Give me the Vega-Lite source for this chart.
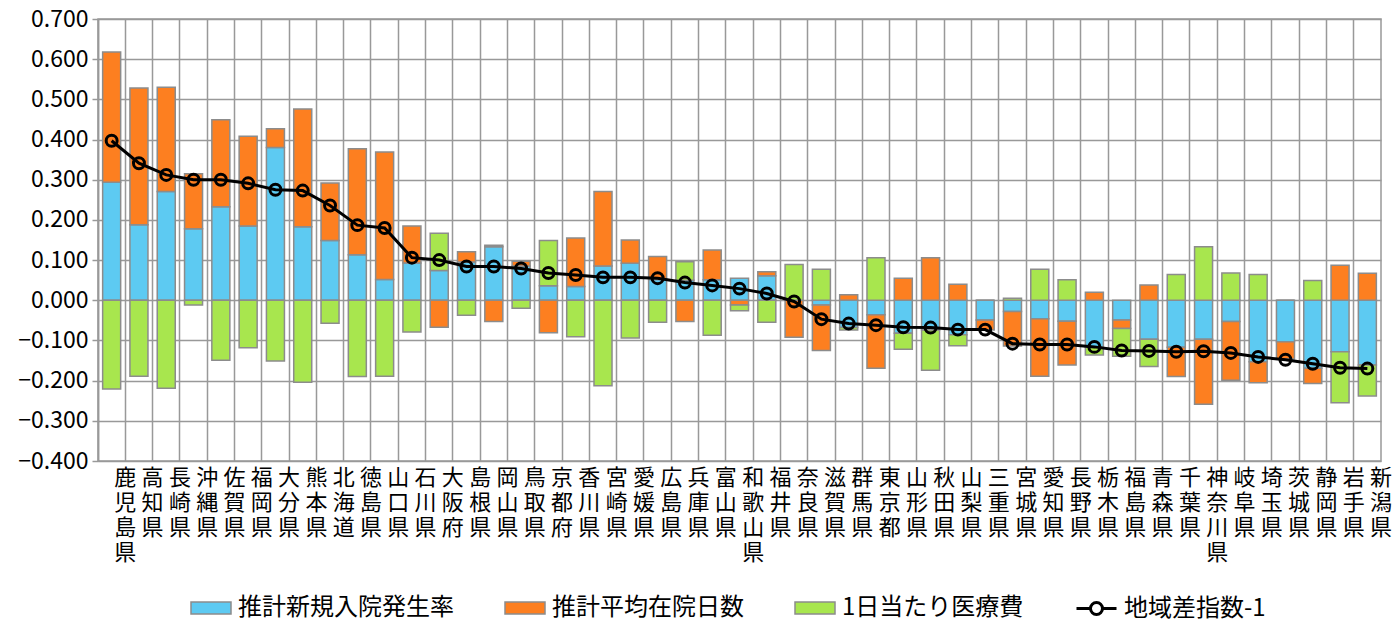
{
  "$schema": "https://vega.github.io/schema/vega-lite/v6.json",
  "width": 1283,
  "height": 442,
  "autosize": {"type": "none"},
  "padding": {"left": 98, "top": 19, "right": 16, "bottom": 160},
  "background": "white",
  "config": {
    "font": "Noto Sans CJK JP",
    "view": {"stroke": "#999999", "strokeWidth": 1.5}
  },
  "data": {
    "values": [
      {"pref": "鹿児島県", "推計新規入院発生率": 0.294, "推計平均在院日数": 0.324, "1日当たり医療費": -0.221, "地域差指数-1": 0.397},
      {"pref": "高知県", "推計新規入院発生率": 0.188, "推計平均在院日数": 0.340, "1日当たり医療費": -0.189, "地域差指数-1": 0.341},
      {"pref": "長崎県", "推計新規入院発生率": 0.271, "推計平均在院日数": 0.259, "1日当たり医療費": -0.219, "地域差指数-1": 0.312},
      {"pref": "沖縄県", "推計新規入院発生率": 0.178, "推計平均在院日数": 0.137, "1日当たり医療費": -0.012, "地域差指数-1": 0.300},
      {"pref": "佐賀県", "推計新規入院発生率": 0.233, "推計平均在院日数": 0.216, "1日当たり医療費": -0.149, "地域差指数-1": 0.300},
      {"pref": "福岡県", "推計新規入院発生率": 0.185, "推計平均在院日数": 0.223, "1日当たり医療費": -0.118, "地域差指数-1": 0.291},
      {"pref": "大分県", "推計新規入院発生率": 0.380, "推計平均在院日数": 0.047, "1日当たり医療費": -0.151, "地域差指数-1": 0.275},
      {"pref": "熊本県", "推計新規入院発生率": 0.183, "推計平均在院日数": 0.293, "1日当たり医療費": -0.204, "地域差指数-1": 0.273},
      {"pref": "北海道", "推計新規入院発生率": 0.149, "推計平均在院日数": 0.143, "1日当たり医療費": -0.057, "地域差指数-1": 0.236},
      {"pref": "徳島県", "推計新規入院発生率": 0.113, "推計平均在院日数": 0.264, "1日当たり医療費": -0.190, "地域差指数-1": 0.187},
      {"pref": "山口県", "推計新規入院発生率": 0.052, "推計平均在院日数": 0.317, "1日当たり医療費": -0.189, "地域差指数-1": 0.180},
      {"pref": "石川県", "推計新規入院発生率": 0.093, "推計平均在院日数": 0.092, "1日当たり医療費": -0.079, "地域差指数-1": 0.106},
      {"pref": "大阪府", "推計新規入院発生率": 0.074, "推計平均在院日数": -0.067, "1日当たり医療費": 0.093, "地域差指数-1": 0.100},
      {"pref": "島根県", "推計新規入院発生率": 0.095, "推計平均在院日数": 0.026, "1日当たり医療費": -0.037, "地域差指数-1": 0.084},
      {"pref": "岡山県", "推計新規入院発生率": 0.133, "推計平均在院日数": -0.053, "1日当たり医療費": 0.004, "地域差指数-1": 0.084},
      {"pref": "鳥取県", "推計新規入院発生率": 0.085, "推計平均在院日数": 0.012, "1日当たり医療費": -0.020, "地域差指数-1": 0.079},
      {"pref": "京都府", "推計新規入院発生率": 0.036, "推計平均在院日数": -0.081, "1日当たり医療費": 0.113, "地域差指数-1": 0.068},
      {"pref": "香川県", "推計新規入院発生率": 0.034, "推計平均在院日数": 0.121, "1日当たり医療費": -0.091, "地域差指数-1": 0.063},
      {"pref": "宮崎県", "推計新規入院発生率": 0.085, "推計平均在院日数": 0.186, "1日当たり医療費": -0.213, "地域差指数-1": 0.057},
      {"pref": "愛媛県", "推計新規入院発生率": 0.092, "推計平均在院日数": 0.058, "1日当たり医療費": -0.094, "地域差指数-1": 0.057},
      {"pref": "広島県", "推計新規入院発生率": 0.052, "推計平均在院日数": 0.057, "1日当たり医療費": -0.055, "地域差指数-1": 0.055},
      {"pref": "兵庫県", "推計新規入院発生率": 0.050, "推計平均在院日数": -0.053, "1日当たり医療費": 0.046, "地域差指数-1": 0.044},
      {"pref": "富山県", "推計新規入院発生率": 0.051, "推計平均在院日数": 0.074, "1日当たり医療費": -0.087, "地域差指数-1": 0.037},
      {"pref": "和歌山県", "推計新規入院発生率": 0.055, "推計平均在院日数": -0.012, "1日当たり医療費": -0.014, "地域差指数-1": 0.029},
      {"pref": "福井県", "推計新規入院発生率": 0.061, "推計平均在院日数": 0.010, "1日当たり医療費": -0.055, "地域差指数-1": 0.017},
      {"pref": "奈良県", "推計新規入院発生率": 0.000, "推計平均在院日数": -0.092, "1日当たり医療費": 0.089, "地域差指数-1": -0.003},
      {"pref": "滋賀県", "推計新規入院発生率": -0.012, "推計平均在院日数": -0.113, "1日当たり医療費": 0.077, "地域差指数-1": -0.047},
      {"pref": "群馬県", "推計新規入院発生率": -0.068, "推計平均在院日数": 0.014, "1日当たり医療費": -0.006, "地域差指数-1": -0.058},
      {"pref": "東京都", "推計新規入院発生率": -0.036, "推計平均在院日数": -0.133, "1日当たり医療費": 0.106, "地域差指数-1": -0.062},
      {"pref": "山形県", "推計新規入院発生率": -0.082, "推計平均在院日数": 0.055, "1日当たり医療費": -0.040, "地域差指数-1": -0.067},
      {"pref": "秋田県", "推計新規入院発生率": -0.074, "推計平均在院日数": 0.106, "1日当たり医療費": -0.100, "地域差指数-1": -0.068},
      {"pref": "山梨県", "推計新規入院発生率": -0.086, "推計平均在院日数": 0.040, "1日当たり医療費": -0.027, "地域差指数-1": -0.073},
      {"pref": "三重県", "推計新規入院発生率": -0.049, "推計平均在院日数": -0.025, "1日当たり医療費": 0.000, "地域差指数-1": -0.073},
      {"pref": "宮城県", "推計新規入院発生率": -0.028, "推計平均在院日数": -0.086, "1日当たり医療費": 0.005, "地域差指数-1": -0.108},
      {"pref": "愛知県", "推計新規入院発生率": -0.046, "推計平均在院日数": -0.143, "1日当たり医療費": 0.077, "地域差指数-1": -0.110},
      {"pref": "長野県", "推計新規入院発生率": -0.052, "推計平均在院日数": -0.109, "1日当たり医療費": 0.051, "地域差指数-1": -0.110},
      {"pref": "栃木県", "推計新規入院発生率": -0.117, "推計平均在院日数": 0.020, "1日当たり医療費": -0.019, "地域差指数-1": -0.116},
      {"pref": "福島県", "推計新規入院発生率": -0.049, "推計平均在院日数": -0.021, "1日当たり医療費": -0.069, "地域差指数-1": -0.125},
      {"pref": "青森県", "推計新規入院発生率": -0.097, "推計平均在院日数": 0.038, "1日当たり医療費": -0.068, "地域差指数-1": -0.126},
      {"pref": "千葉県", "推計新規入院発生率": -0.117, "推計平均在院日数": -0.073, "1日当たり医療費": 0.064, "地域差指数-1": -0.128},
      {"pref": "神奈川県", "推計新規入院発生率": -0.097, "推計平均在院日数": -0.162, "1日当たり医療費": 0.133, "地域差指数-1": -0.127},
      {"pref": "岐阜県", "推計新規入院発生率": -0.053, "推計平均在院日数": -0.146, "1日当たり医療費": 0.068, "地域差指数-1": -0.131},
      {"pref": "埼玉県", "推計新規入院発生率": -0.153, "推計平均在院日数": -0.052, "1日当たり医療費": 0.064, "地域差指数-1": -0.141},
      {"pref": "茨城県", "推計新規入院発生率": -0.103, "推計平均在院日数": -0.043, "1日当たり医療費": 0.000, "地域差指数-1": -0.148},
      {"pref": "静岡県", "推計新規入院発生率": -0.169, "推計平均在院日数": -0.038, "1日当たり医療費": 0.049, "地域差指数-1": -0.158},
      {"pref": "岩手県", "推計新規入院発生率": -0.128, "推計平均在院日数": 0.087, "1日当たり医療費": -0.127, "地域差指数-1": -0.168},
      {"pref": "新潟県", "推計新規入院発生率": -0.161, "推計平均在院日数": 0.067, "1日当たり医療費": -0.077, "地域差指数-1": -0.170}
    ]
  },
  "layer": [
    {
      "transform": [
        {"fold": ["推計新規入院発生率", "推計平均在院日数", "1日当たり医療費"], "as": ["key", "val"]}
      ],
      "mark": {"type": "bar", "stroke": "#8c8c8c", "strokeWidth": 1.5, "width": {"band": 0.66}},
      "encoding": {
        "x": {
          "field": "pref",
          "type": "nominal",
          "sort": null,
          "scale": {"paddingInner": 0, "paddingOuter": 0},
          "axis": {
            "title": null,
            "bandPosition": 0,
            "grid": true,
            "gridColor": "#999999",
            "gridWidth": 1.5,
            "ticks": false,
            "domain": false,
            "labelAngle": 0,
            "labelExpr": "split(datum.label, '')",
            "labelOffset": 13.65,
            "labelFontSize": 22,
            "labelLineHeight": 25,
            "labelBaseline": "top",
            "labelAlign": "center",
            "labelPadding": 6,
            "labelColor": "#000000",
            "labelOverlap": false
          }
        },
        "y": {
          "field": "val",
          "type": "quantitative",
          "stack": "zero",
          "scale": {"domain": [-0.4, 0.7], "nice": false, "zero": false},
          "axis": {
            "title": null,
            "values": [-0.4, -0.3, -0.2, -0.1, 0, 0.1, 0.2, 0.3, 0.4, 0.5, 0.6, 0.7],
            "format": ".3f",
            "grid": true,
            "gridColor": "#999999",
            "gridWidth": 1.5,
            "tickColor": "#999999",
            "tickSize": 6,
            "tickWidth": 1.5,
            "domain": true,
            "domainColor": "#999999",
            "domainWidth": 1.5,
            "labelFontSize": 23,
            "labelPadding": 4,
            "labelColor": "#000000"
          }
        },
        "color": {
          "field": "key",
          "type": "nominal",
          "scale": {
            "domain": ["推計新規入院発生率", "推計平均在院日数", "1日当たり医療費"],
            "range": ["#5DCAF2", "#FD7F20", "#A8E64E"]
          },
          "legend": {
            "title": null,
            "orient": "none",
            "legendX": 92,
            "legendY": 568,
            "direction": "horizontal",
            "columns": 3,
            "columnPadding": 48,
            "symbolType": "M-1,-0.3H1V0.3H-1Z",
            "symbolSize": 1600,
            "symbolStrokeColor": "#8c8c8c",
            "symbolStrokeWidth": 1.5,
            "symbolOpacity": 1,
            "labelFontSize": 24,
            "labelOffset": 6,
            "labelColor": "#000000",
            "labelLimit": 400,
            "padding": 0
          }
        },
        "order": {"field": "key", "sort": "descending"}
      }
    },
    {
      "mark": {"type": "line", "strokeWidth": 3},
      "encoding": {
        "x": {"field": "pref", "type": "nominal", "sort": null},
        "y": {"field": "地域差指数-1", "type": "quantitative", "title": null},
        "stroke": {
          "datum": "地域差指数-1",
          "scale": {"domain": ["地域差指数-1"], "range": ["#000000"]},
          "legend": {
            "title": null,
            "orient": "none",
            "legendX": 977,
            "legendY": 568,
            "direction": "horizontal",
            "symbolType": "M-1,0H-0.3M0.3,0H1M-0.3,0A0.3,0.3 0 1,1 0.3,0A0.3,0.3 0 1,1 -0.3,0",
            "symbolSize": 1600,
            "symbolStrokeWidth": 3,
            "symbolFillColor": "transparent",
            "symbolOpacity": 1,
            "labelFontSize": 24,
            "labelOffset": 6,
            "labelColor": "#000000",
            "labelLimit": 400,
            "padding": 0
          }
        }
      }
    },
    {
      "mark": {"type": "point", "shape": "circle", "filled": false, "size": 120, "strokeWidth": 3, "color": "#000000", "opacity": 1},
      "encoding": {
        "x": {"field": "pref", "type": "nominal", "sort": null},
        "y": {"field": "地域差指数-1", "type": "quantitative", "title": null}
      }
    }
  ]
}
